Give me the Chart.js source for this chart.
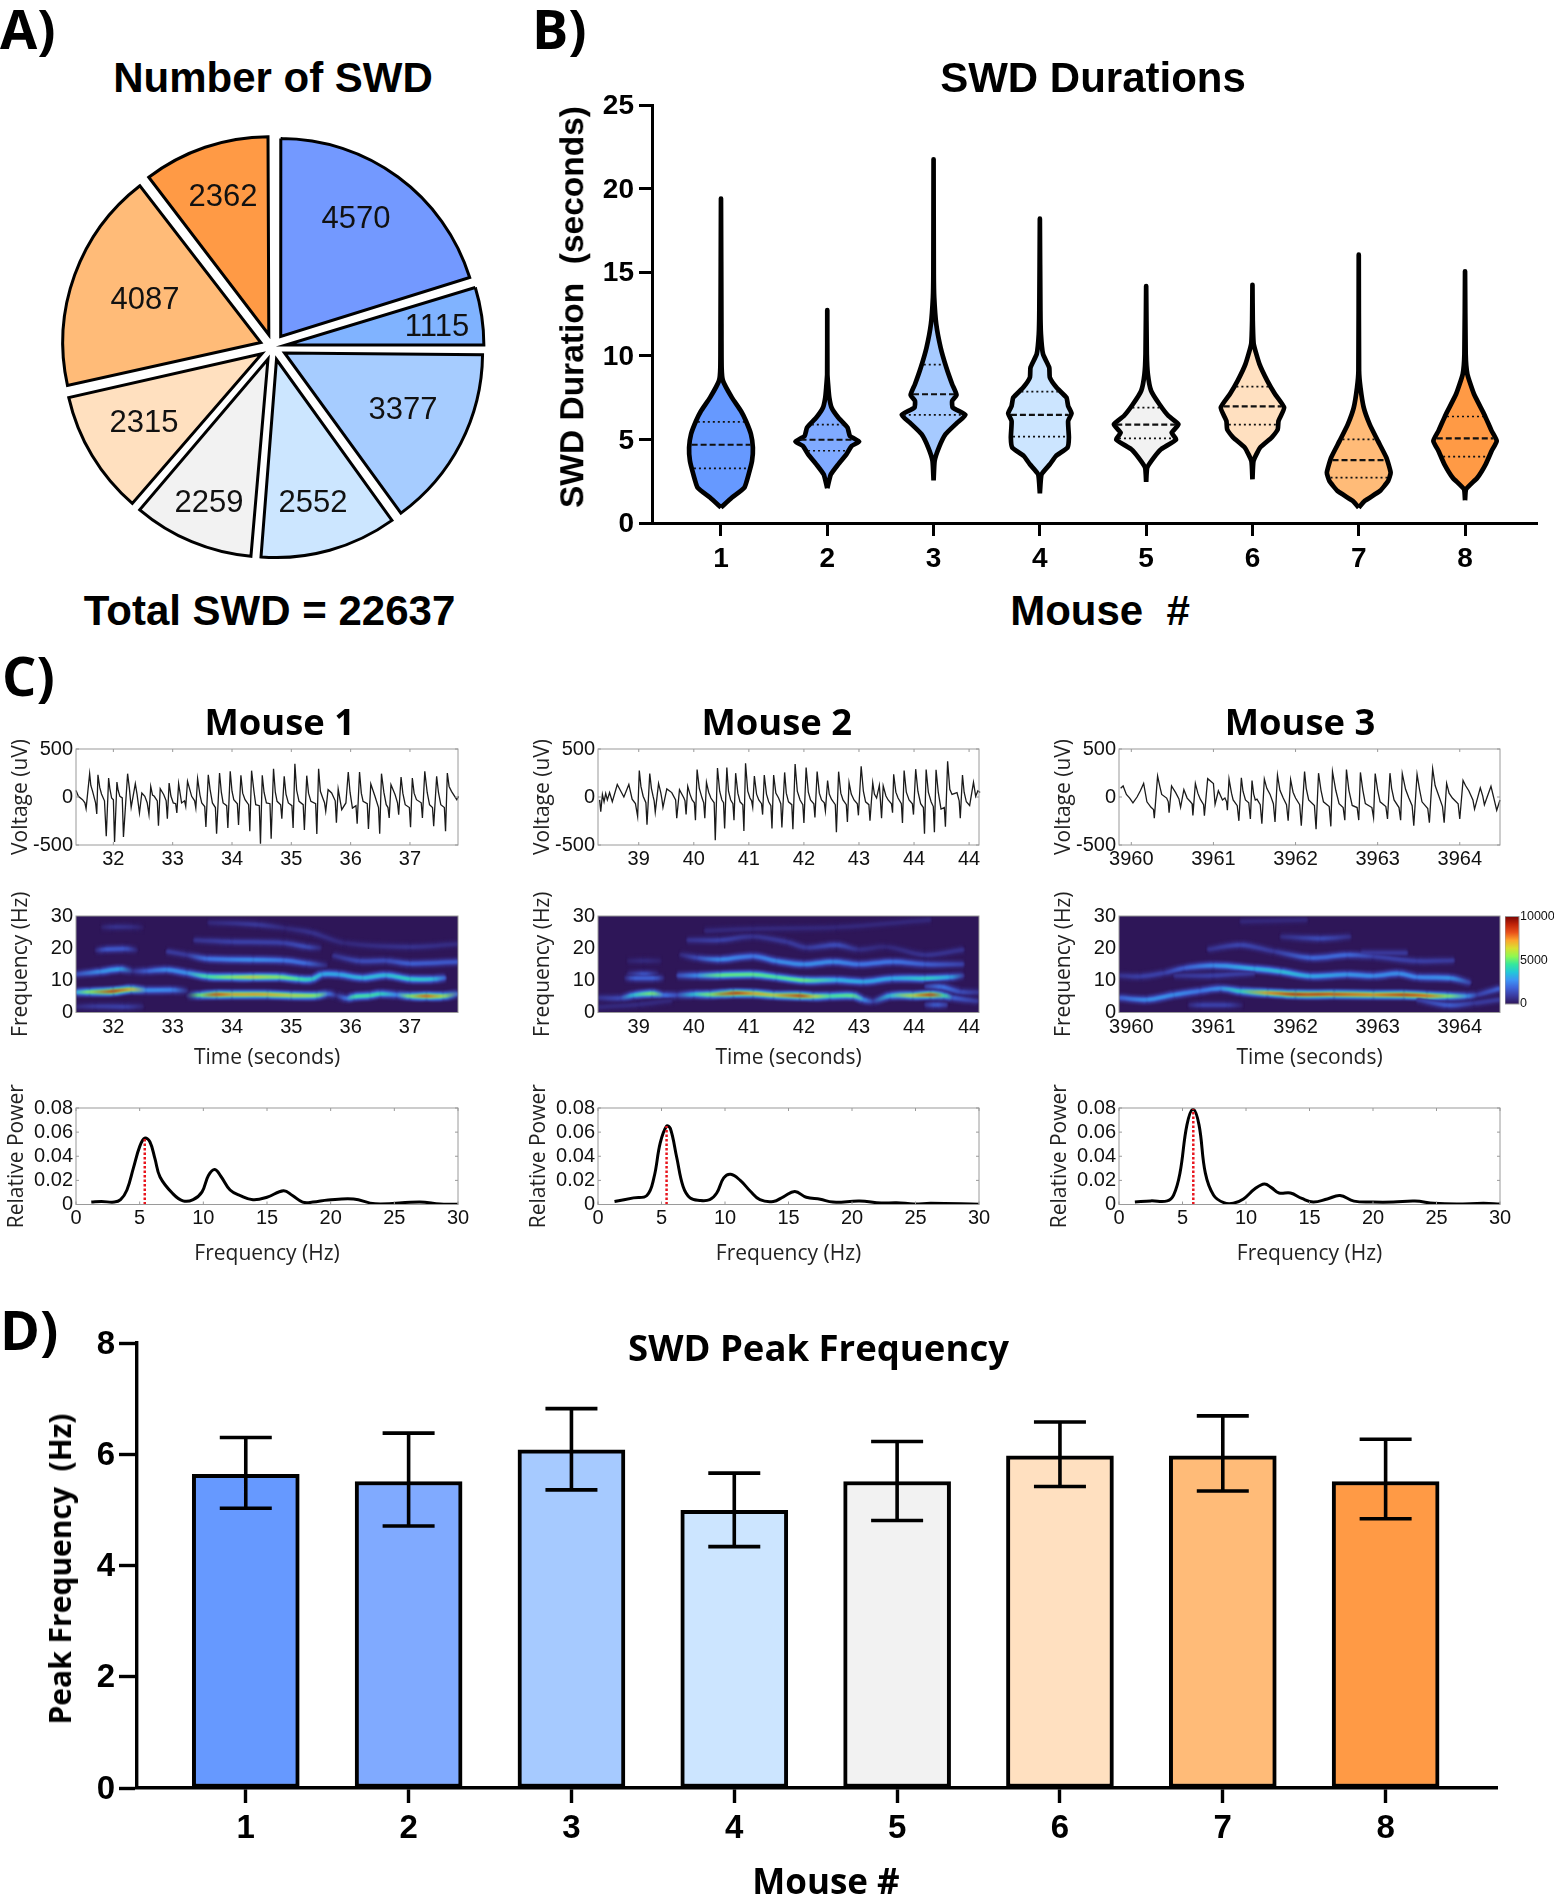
<!DOCTYPE html>
<html>
<head>
<meta charset="utf-8">
<title>SWD figure</title>
<script src="https://cdn.jsdelivr.net/npm/chart.js@4"></script>
<style>
  html, body { margin: 0; padding: 0; background: #fff; }
  #page { position: relative; width: 1554px; height: 1896px; overflow: hidden; }
  #page canvas { position: absolute; }
  .figText { position: absolute; line-height: 1; white-space: pre; color: #000; }
</style>
</head>
<body>
<div id="page"></div>
<script>
// ===================================================
// Data
// ===================================================

var mice = [1, 2, 3, 4, 5, 6, 7, 8];

// Panel A
var swdCounts = [4570, 1115, 3377, 2552, 2259, 2315, 4087, 2362];
var pieColors = ['#7399FF', '#80B3FF', '#A6CCFF', '#CCE6FF', '#F2F2F2', '#FFE0BF', '#FFBB78', '#FF9A45'];
// label offset from the pie centre, pixels
var pieLabelOffsets = [[83, -128], [164, -20], [130, 63], [40, 156], [-64, 156], [-129, 76], [-128, -47], [-50, -150]];

// Panel B: [duration, half width] from bottom tip to top tip
var violin1 = [[0.92,0],[1.52,.103],[2.12,.22],[2.91,.26],[3.71,.292],[4.51,.3],[5.31,.282],[6.1,.235],[6.7,.188],[7.5,.103],[8.5,.019],[9.3,.006],[11.9,.004],[19.4,0]];
var violin2 = [[2.08,0],[2.91,.034],[3.51,.103],[4.11,.18],[4.61,.23],[4.87,.3],[5.21,.213],[5.71,.19],[6.31,.103],[6.91,.04],[7.5,.019],[8.1,.01],[8.9,.001],[12.73,0]];
var violin3 = [[2.55,0],[3.71,.01],[4.51,.05],[5.31,.113],[6,.223],[6.47,.3],[6.9,.18],[7.3,.175],[7.66,.216],[8.3,.175],[9.3,.12],[10.5,.066],[11.9,.025],[13.5,.006],[14.9,.002],[21.75,0]];
var violin4 = [[1.78,0],[2.91,.016],[3.51,.094],[4,.15],[4.51,.26],[5.11,.273],[6.1,.266],[6.55,.298],[7,.266],[7.5,.25],[8.1,.157],[8.7,.094],[9.3,.088],[10.1,.03],[11.3,.01],[12.7,.005],[18.2,0]];
var violin5 = [[2.47,0],[3.31,.01],[3.91,.072],[4.41,.14],[5,.282],[5.4,.24],[5.9,.304],[6.4,.21],[7.1,.125],[7.9,.047],[8.9,.016],[10.1,.006],[14.17,0]];
var violin6 = [[2.61,0],[3.71,.01],[4.51,.072],[5.11,.18],[5.6,.238],[6.1,.245],[6.9,.298],[7.7,.213],[8.5,.14],[9.5,.066],[10.7,.012],[12.1,.003],[14.25,0]];
var violin7 = [[.92,0],[1.32,.056],[1.92,.2],[2.51,.276],[3.01,.3],[3.91,.26],[4.91,.18],[5.9,.103],[6.9,.047],[8.1,.016],[9.1,.003],[16.05,0]];
var violin8 = [[1.36,0],[2.02,.01],[2.71,.116],[3.51,.194],[4.31,.25],[4.91,.298],[5.51,.25],[6.51,.18],[7.7,.085],[8.9,.022],[10.1,.006],[15.05,0]];
var violins = [violin1, violin2, violin3, violin4, violin5, violin6, violin7, violin8];
var durationMedians = [4.68, 4.98, 7.7, 6.47, 5.88, 6.97, 3.76, 5.06];
var durationQ1 = [3.27, 4.32, 6.47, 5.17, 5.06, 5.88, 2.71, 3.97];
var durationQ3 = [6.05, 5.88, 9.47, 7.86, 6.9, 8.16, 5, 6.37];
var violinColors = ['#6699FF', '#80AAFF', '#A6CAFF', '#CCE5FF', '#F2F2F2', '#FFE0C0', '#FFBB78', '#FF9A45'];

// Panel C: voltage traces [seconds, uV]
var trace1 = [[31.37,69],[31.41,7],[31.48,-28],[31.52,-60],[31.54,-121],[31.6,243],[31.62,120],[31.65,59],[31.7,-60],[31.72,-177],[31.74,232],[31.77,100],[31.8,31],[31.85,-40],[31.88,-409],[31.92,198],[31.94,90],[31.97,-10],[32,-30],[32.02,-468],[32.06,156],[32.08,70],[32.11,7],[32.15,-10],[32.17,-416],[32.24,243],[32.27,90],[32.3,-108],[32.37,139],[32.4,24],[32.44,-167],[32.48,42],[32.53,7],[32.57,-60],[32.6,-184],[32.63,111],[32.66,20],[32.69,7],[32.74,-40],[32.76,-298],[32.79,87],[32.85,24],[32.89,-40],[32.91,-226],[32.94,146],[32.97,10],[33.01,-62],[33.05,-70],[33.07,-167],[33.1,139],[33.15,-62],[33.2,-40],[33.22,-97],[33.25,163],[33.32,7],[33.37,-40],[33.39,-115],[33.42,191],[33.46,20],[33.49,-62],[33.54,-100],[33.56,-312],[33.6,232],[33.63,80],[33.67,-62],[33.72,-110],[33.74,-382],[33.79,250],[33.82,50],[33.85,-62],[33.91,-90],[33.93,-323],[33.97,267],[34,60],[34.03,-28],[34.09,-70],[34.11,-291],[34.15,226],[34.18,40],[34.22,-28],[34.28,-80],[34.3,-357],[34.33,274],[34.37,60],[34.4,-80],[34.46,-90],[34.48,-486],[34.51,226],[34.54,50],[34.58,-62],[34.64,-70],[34.66,-434],[34.7,295],[34.73,50],[34.76,-45],[34.82,-80],[34.84,-226],[34.88,215],[34.91,30],[34.95,-62],[35.01,-90],[35.03,-323],[35.06,347],[35.09,70],[35.13,-45],[35.2,-80],[35.22,-344],[35.26,222],[35.29,40],[35.33,-45],[35.41,-70],[35.43,-385],[35.46,295],[35.49,60],[35.53,-10],[35.56,-60],[35.58,-149],[35.62,76],[35.68,42],[35.74,-40],[35.76,-267],[35.79,83],[35.85,-132],[35.92,-62],[35.96,260],[35.99,50],[36.03,-115],[36.09,-90],[36.11,-278],[36.15,260],[36.18,40],[36.21,-45],[36.28,-70],[36.3,-333],[36.34,135],[36.41,7],[36.47,-110],[36.49,-382],[36.52,243],[36.56,50],[36.6,-80],[36.63,-110],[36.65,-219],[36.68,128],[36.75,24],[36.79,-60],[36.81,-184],[36.85,208],[36.88,40],[36.92,-80],[36.99,-110],[37.01,-316],[37.04,198],[37.07,40],[37.11,-28],[37.19,-60],[37.21,-219],[37.25,267],[37.29,50],[37.33,-80],[37.38,-110],[37.4,-305],[37.45,215],[37.48,50],[37.52,-80],[37.58,-110],[37.6,-357],[37.63,250],[37.66,110],[37.7,59],[37.79,-28],[37.82,7]];
var trace2 = [[38.29,-30],[38.31,-153],[38.34,27],[38.37,-50],[38.4,38],[38.43,-30],[38.47,46],[38.52,-50],[38.61,130],[38.67,65],[38.73,0],[38.82,130],[38.88,-23],[38.94,-69],[38.98,-202],[39.01,275],[39.04,110],[39.08,8],[39.13,-60],[39.15,-290],[39.2,245],[39.23,90],[39.26,8],[39.28,-40],[39.3,-157],[39.36,141],[39.4,46],[39.42,-20],[39.44,-107],[39.51,84],[39.6,46],[39.67,-30],[39.69,-222],[39.74,76],[39.82,-11],[39.84,-40],[39.86,-183],[39.89,111],[39.93,30],[39.97,-31],[40.01,-60],[40.03,-241],[40.06,286],[40.1,90],[40.15,-11],[40.18,-60],[40.2,-222],[40.23,153],[40.27,50],[40.31,-11],[40.37,-60],[40.39,-451],[40.43,302],[40.47,60],[40.51,-31],[40.54,-60],[40.56,-329],[40.6,306],[40.63,60],[40.67,-31],[40.71,-70],[40.73,-241],[40.76,248],[40.8,40],[40.84,-50],[40.89,-80],[40.91,-355],[40.94,351],[40.98,60],[41.02,-11],[41.05,-40],[41.07,-107],[41.1,218],[41.14,30],[41.18,-31],[41.23,-70],[41.25,-183],[41.28,229],[41.32,30],[41.36,-50],[41.4,-90],[41.42,-329],[41.45,229],[41.49,40],[41.54,-11],[41.58,-70],[41.6,-317],[41.65,256],[41.68,40],[41.72,-50],[41.78,-80],[41.8,-336],[41.84,344],[41.88,60],[41.93,-31],[41.98,-80],[42,-271],[42.04,306],[42.08,50],[42.12,-31],[42.18,-70],[42.2,-214],[42.24,264],[42.28,40],[42.32,-31],[42.37,-60],[42.39,-145],[42.43,172],[42.46,30],[42.5,-23],[42.57,-80],[42.59,-367],[42.63,264],[42.67,40],[42.71,-31],[42.77,-80],[42.79,-260],[42.82,149],[42.86,30],[42.91,-31],[42.97,-70],[42.99,-191],[43.04,321],[43.08,60],[43.12,-50],[43.18,-80],[43.2,-248],[43.25,149],[43.28,30],[43.32,-11],[43.37,122],[43.39,-40],[43.41,-222],[43.44,115],[43.49,10],[43.53,-31],[43.59,-70],[43.61,-164],[43.63,237],[43.67,50],[43.71,-11],[43.77,-70],[43.79,-271],[43.82,275],[43.86,50],[43.91,-31],[43.97,-70],[43.99,-183],[44.03,290],[44.07,60],[44.12,-69],[44.17,-110],[44.19,-382],[44.22,286],[44.26,50],[44.31,-50],[44.35,-100],[44.37,-367],[44.4,283],[44.44,50],[44.49,-126],[44.55,-110],[44.57,-309],[44.61,371],[44.65,80],[44.69,27],[44.78,46],[44.82,-40],[44.84,-222],[44.88,229],[44.91,50],[44.95,-50],[45.01,-88],[45.08,153],[45.12,8],[45.16,65],[45.2,46],[45.26,-107]];
var trace3 = [[3959.87,92],[3959.9,115],[3959.94,27],[3959.98,-11],[3960.02,-61],[3960.07,0],[3960.11,65],[3960.15,141],[3960.19,-50],[3960.24,-107],[3960.27,-130],[3960.28,-222],[3960.32,218],[3960.35,100],[3960.37,27],[3960.43,-11],[3960.45,-50],[3960.46,-164],[3960.49,115],[3960.54,46],[3960.58,-20],[3960.6,-107],[3960.64,76],[3960.68,-11],[3960.72,-50],[3960.74,-70],[3960.75,-191],[3960.78,141],[3960.81,40],[3960.84,-23],[3960.88,-80],[3960.89,-195],[3960.93,191],[3961,141],[3961.02,-76],[3961.06,65],[3961.11,-31],[3961.14,-11],[3961.16,-50],[3961.17,-138],[3961.19,187],[3961.22,40],[3961.24,-31],[3961.29,-90],[3961.31,-248],[3961.34,199],[3961.36,60],[3961.39,-31],[3961.43,-60],[3961.45,-229],[3961.47,172],[3961.49,30],[3961.51,-31],[3961.53,-23],[3961.57,-80],[3961.59,-279],[3961.62,187],[3961.65,90],[3961.69,27],[3961.73,-70],[3961.75,-260],[3961.78,229],[3961.81,70],[3961.85,-11],[3961.89,-80],[3961.91,-248],[3961.94,180],[3961.97,50],[3962,-11],[3962.05,-80],[3962.07,-298],[3962.11,264],[3962.13,90],[3962.16,-31],[3962.23,-90],[3962.25,-336],[3962.28,248],[3962.31,70],[3962.34,-50],[3962.41,-100],[3962.43,-306],[3962.45,264],[3962.49,70],[3962.53,-69],[3962.58,-110],[3962.6,-241],[3962.62,286],[3962.65,70],[3962.69,-88],[3962.75,-110],[3962.77,-241],[3962.79,256],[3962.82,70],[3962.85,-69],[3962.93,-110],[3962.95,-214],[3962.97,244],[3963,70],[3963.03,-50],[3963.1,-100],[3963.12,-229],[3963.15,248],[3963.17,90],[3963.2,-31],[3963.26,-110],[3963.28,-241],[3963.3,244],[3963.34,80],[3963.38,-11],[3963.42,-90],[3963.44,-298],[3963.48,237],[3963.51,80],[3963.54,-50],[3963.61,-120],[3963.63,-267],[3963.67,294],[3963.7,120],[3963.73,46],[3963.79,-100],[3963.81,-267],[3963.84,141],[3963.87,40],[3963.91,-11],[3963.98,-70],[3964,-229],[3964.04,172],[3964.07,120],[3964.11,65],[3964.16,-30],[3964.18,-126],[3964.25,95],[3964.28,10],[3964.3,-80],[3964.38,111],[3964.42,-30],[3964.45,-138],[3964.49,-31]];

// Panel C: spectrogram ridges, each a list of [seconds, Hz, relative power]
var ridges1 = [
  [[31.37,6.3,.35],[31.6,6.4,.6],[32,6.6,1],[32.3,7.2,.75],[32.55,6.9,.3],[33,7,.28],[33.25,6.7,.06]],
  [[33.24,5.3,.05],[33.46,5.4,.55],[33.74,5.6,.97],[34,5.6,.8],[34.6,5.6,.78],[35,5.3,.7],[35.43,5.3,.6],[35.62,5.8,.25],[35.76,5.3,.08],[35.93,4.4,.25],[36.05,4.9,.5],[36.33,5.3,.5],[36.5,5.8,.45],[36.78,5.5,.28],[37,5.1,.6],[37.28,5.1,.9],[37.56,5.1,.65],[37.81,5.8,.2]],
  [[31.37,11.9,.15],[31.78,12.7,.3],[32.11,13.5,.35],[32.33,12.9,.08],[32.56,12.9,.2],[32.9,13.3,.3],[33.24,12.3,.3],[33.58,11.2,.5],[34,11,.6],[34.36,11,.7],[34.8,11,.6],[35.13,10.4,.5],[35.35,10.4,.45],[35.52,11.9,.35],[35.8,11.8,.35],[36.2,10.8,.4],[36.6,11.6,.4],[37,10.4,.45],[37.4,10.4,.4],[37.6,10.8,.2]],
  [[32.9,19,.1],[33.24,17.9,.1],[33.58,16.7,.25],[34.36,16.4,.3],[34.87,16.2,.25],[35.26,15.3,.22],[35.6,14.6,.05]],
  [[35.7,17.7,.08],[36.15,16,.15],[36.6,16.1,.15],[37,15.2,.2],[37.81,15.8,.18]],
  [[33.36,22.5,.08],[34,22,.12],[34.87,21.6,.12],[35.26,20.4,.15],[35.5,20.1,.05]],
  [[33.6,28,.05],[34.45,27.3,.1],[34.9,26.2,.05],[35.35,24.8,.08],[35.9,21.6,.05],[37,20.4,.08],[37.81,21.3,.06]],
  [[31.7,19.3,.05],[31.85,19.6,.18],[32.2,19.8,.18],[32.4,19.4,.04]],
  [[31.8,26.5,.03],[32,26.6,.08],[32.35,26.6,.06],[32.5,26.4,.02]],
  [[31.37,1.8,.05],[31.7,1.9,.1],[32.2,1.8,.12],[32.5,1.9,.04]]
];
var ridges2 = [
  [[38.26,4.6,.08],[38.67,4.5,.15],[38.9,5.4,.4],[39.24,5.9,.6],[39.45,5.4,.25],[39.7,5.4,.15],[40,5.65,.4],[40.3,5.6,.6],[40.72,6,1],[41.08,5.9,.8],[41.45,5.4,.7],[41.93,5.2,1],[42.17,5,.7],[42.47,5.1,.5],[42.9,5.2,.55],[43.08,4,.3],[43.26,3.5,.12],[43.56,5.2,.4],[43.98,5.3,.7],[44.3,5.5,1],[44.55,5.2,.5],[44.7,4.6,.2],[45.16,3.5,.1]],
  [[44.2,8.1,.1],[44.5,8,.25],[44.85,6.4,.15],[45.18,6.3,.08]],
  [[44.2,2.4,.08],[44.4,2.4,.2],[44.6,2.4,.1]],
  [[39.7,11.5,.15],[40.06,11.5,.3],[40.48,11.6,.55],[41.08,11.8,.55],[41.5,11,.5],[42,10,.55],[42.6,10.1,.38],[43.08,9.6,.35],[43.6,10.6,.35],[44.2,10.6,.45],[44.65,11,.35],[44.9,11.5,.1]],
  [[38.75,10.7,.05],[38.9,10.7,.2],[39.3,10.7,.2],[39.45,10.7,.05]],
  [[38.8,12,.05],[39.1,12,.18],[39.35,12,.04]],
  [[38.8,16,.03],[39.1,16.1,.06],[39.4,16,.03]],
  [[39.75,18,.05],[40.06,17,.15],[40.48,16.5,.3],[41.08,17.5,.25],[41.5,16,.3],[42,15,.3],[42.53,15.8,.3],[43,15,.25],[43.62,15.8,.25],[44.2,15,.2],[44.9,15,.12]],
  [[39.88,22.5,.08],[40.48,22.5,.12],[41.08,23.6,.08],[41.7,21.9,.1],[42.05,20.2,.1],[42.6,21,.16],[43,19.6,.07],[43.5,20.4,.05],[44.2,17.9,.08],[44.9,19.6,.08]],
  [[40.2,25.4,.05],[41.08,26,.05],[42.6,26.5,.05],[44.3,28.8,.05]],
  [[38.26,1.7,.05],[39,2.5,.06],[39.6,3.8,.05]]
];
var ridges3 = [
  [[3959.85,4.6,.2],[3960.19,4,.3],[3960.52,5.5,.3],[3960.84,6.7,.25],[3961.09,7.5,.3],[3961.33,6.6,.45],[3961.66,6.1,.8],[3962,5.65,1],[3962.47,5.65,.95],[3962.95,5.5,.85],[3963.32,5.5,1],[3963.6,5.2,.9],[3963.85,5.1,.6],[3964.09,5.1,.3],[3964.21,5.5,.12],[3964.49,7.5,.2]],
  [[3963.48,4,.1],[3963.85,2.3,.2],[3964.17,2.9,.1],[3964.49,4,.1]],
  [[3960.7,2.3,.05],[3960.84,2.3,.12],[3961.17,2.3,.12],[3961.35,2.2,.03]],
  [[3959.85,11.5,.08],[3960.11,11.2,.12],[3960.4,12.3,.12],[3960.64,13.8,.2],[3961,14.6,.3],[3961.5,13.6,.38],[3961.82,12.7,.4],[3962.18,11.3,.35],[3962.63,11.8,.32],[3962.95,11.4,.3],[3963.26,12.1,.3],[3963.48,11,.28],[3963.89,10.7,.32],[3964.13,9.2,.12]],
  [[3960.52,11.5,.08],[3961,11.5,.12],[3961.5,12.3,.1]],
  [[3960.93,19.6,.08],[3961.33,21,.14],[3961.74,19,.1],[3962.18,17,.22],[3962.63,17.9,.22],[3962.95,17.4,.12],[3963.48,16,.12],[3963.93,16.2,.1]],
  [[3962.8,18.5,.1],[3963.36,18.5,.1]],
  [[3961.82,23.6,.06],[3962.3,23,.15],[3962.67,23.6,.07]],
  [[3961.33,28.3,.05],[3962.14,28.8,.05]]
];

// Panel C: power spectra [Hz, relative power]
var spectrum1 = [[1.2,.002],[2,.0025],[3,.002],[3.5,.004],[4,.012],[4.5,.03],[5,.048],[5.4,.055],[5.8,.052],[6.2,.038],[6.6,.0228],[7.6,.009],[8.4,.003],[9.2,.004],[9.9,.0105],[10.4,.024],[10.9,.029],[11.4,.023],[12.1,.012],[12.9,.0074],[13.9,.004],[15,.006],[16.3,.0114],[17,.0074],[17.8,.002],[18.6,.002],[19.8,.0037],[21.8,.0046],[23.5,.0006],[27,.002],[28.6,.0004],[30,.0003]];
var spectrum2 = [[1.3,.0025],[2.8,.0055],[3.85,.0075],[4.4,.022],[4.9,.051],[5.4,.065],[5.7,.063],[6.2,.039],[6.7,.015],[7.25,.0055],[8,.0034],[8.8,.004],[9.35,.0095],[9.9,.022],[10.45,.025],[11.2,.02],[12,.011],[12.75,.004],[13.8,.0025],[14.6,.0064],[15.5,.0107],[16.4,.006],[17.5,.0043],[18.5,.002],[20.6,.0028],[22.3,.0012],[23.5,.0015],[24.9,.0004],[26.2,.001],[30,.0003]];
var spectrum3 = [[1.25,.002],[2.5,.003],[3.8,.003],[4.3,.0077],[4.8,.026],[5.35,.066],[5.83,.079],[6.3,.066],[6.8,.026],[7.45,.0077],[8.25,.0015],[9,.001],[9.8,.0046],[10.7,.013],[11.45,.017],[12,.014],[12.6,.0095],[13.5,.0095],[14.4,.005],[15.3,.002],[16.4,.0046],[17.4,.0074],[18.5,.0028],[20,.002],[21.6,.002],[23.3,.0028],[24.8,.001],[26.6,.0004],[28.7,.001],[30,.0004]];
var peakFrequencies = [5.4, 5.4, 5.85];
var peakPowers = [0.055, 0.065, 0.079];

// Panel C: axis ticks
var timeTicks1 = [32, 33, 34, 35, 36, 37];
var timeTicks2 = [39, 40, 41, 42, 43, 44, 45];
var timeTicks3 = [3960, 3961, 3962, 3963, 3964];
var timeLabels1 = ['32', '33', '34', '35', '36', '37'];
var timeLabels2 = ['39', '40', '41', '42', '43', '44', '44'];
var timeLabels3 = ['3960', '3961', '3962', '3963', '3964'];
var timeRange1 = [31.37, 37.81];
var timeRange2 = [38.26, 45.18];
var timeRange3 = [3959.85, 3964.49];
var voltageTicks = [-500, 0, 500];
var frequencyTicks = [0, 10, 20, 30];
var spectrumFreqTicks = [0, 5, 10, 15, 20, 25, 30];
var spectrumPowerTicks = [0, 0.02, 0.04, 0.06, 0.08];
var colorbarTicks = [0, 5000, 10000];

// Panel D
var peakMeans = [5.64, 5.51, 6.08, 4.99, 5.51, 5.97, 5.97, 5.51];
var peakUpper = [6.3, 6.38, 6.82, 5.66, 6.23, 6.58, 6.69, 6.27];
var peakLower = [5.03, 4.71, 5.36, 4.34, 4.81, 5.42, 5.34, 4.84];

// ===================================================
// Shared helpers
// ===================================================

var SANS = '"Liberation Sans", Arial, sans-serif';
var OPEN = '"Open Sans", sans-serif';
var page = document.getElementById('page');

Chart.defaults.animation = false;
Chart.defaults.responsive = false;
Chart.defaults.events = [];
Chart.defaults.plugins.legend.display = false;
Chart.defaults.plugins.tooltip.enabled = false;
Chart.defaults.elements.point.radius = 0;

function addText(text, x, y, font, align, rotate) {
  var el = document.createElement('div');
  el.className = 'figText';
  el.textContent = text;
  el.style.font = font;
  el.style.lineHeight = '1';
  el.style.left = x + 'px';
  el.style.top = y + 'px';
  el.style.transform = align === 'left' ? 'translate(0,-50%)' : 'translate(-50%,-50%)' + (rotate ? ' rotate(' + rotate + 'deg)' : '');
  page.appendChild(el);
}

// Creates a canvas so the chart area lands exactly on plot {l,t,r,b}
function placeChart(plot, margins, config) {
  var canvas = document.createElement('canvas');
  var w = plot.r - plot.l + margins.left + margins.right;
  var h = plot.b - plot.t + margins.top + margins.bottom;
  canvas.width = Math.round(w);
  canvas.height = Math.round(h);
  canvas.style.left = (plot.l - margins.left) + 'px';
  canvas.style.top = (plot.t - margins.top) + 'px';
  canvas.style.width = Math.round(w) + 'px';
  canvas.style.height = Math.round(h) + 'px';
  page.appendChild(canvas);

  var scales = config.options.scales;
  var rightAxis = scales && scales.y && scales.y.position === 'right';
  var hiddenX = scales && scales.x && scales.x.display === false;
  config.options.layout = {
    autoPadding: false,
    padding: {
      top: margins.top,
      right: rightAxis ? 0 : margins.right,
      left: rightAxis ? margins.left : 0,
      bottom: hiddenX ? margins.bottom : 0
    }
  };
  if (scales && scales.x) scales.x.afterFit = function(s) { s.height = margins.bottom; };
  if (scales && scales.y) scales.y.afterFit = function(s) { s.width = rightAxis ? margins.right : margins.left; };
  return new Chart(canvas.getContext('2d'), config);
}

function fixedTicks(values) {
  return function(axis) {
    axis.ticks = values.map(function(v) { return { value: v }; });
  };
}

function labelsFrom(list) {
  return function(value, index) { return list[index]; };
}

// Heavy axis used by panels B and D
function heavyAxis(range, values, tickFont, tickLength, tickPad, lineWidth, labelShift) {
  return {
    type: 'linear',
    offset: false,
    min: range[0],
    max: range[1],
    afterBuildTicks: fixedTicks(values),
    ticks: {
      callback: function(v) { return String(v); },
      autoSkip: false,
      maxRotation: 0,
      color: '#000',
      font: tickFont,
      padding: tickPad,
      labelOffset: labelShift || 0
    },
    grid: {
      offset: false,
      drawOnChartArea: false,
      drawTicks: true,
      tickLength: tickLength,
      tickWidth: lineWidth,
      tickColor: '#000'
    },
    border: { color: '#000', width: lineWidth }
  };
}

// Thin box axis used by the panel C plots
function thinAxis(range, values, labels, pad, titleText) {
  var axis = {
    type: 'linear',
    min: range[0],
    max: range[1],
    afterBuildTicks: fixedTicks(values),
    ticks: {
      callback: labelsFrom(labels),
      autoSkip: false,
      maxRotation: 0,
      color: '#111',
      font: { family: SANS, size: 20 },
      padding: pad
    },
    grid: { display: false, drawTicks: false },
    border: { display: false }
  };
  if (titleText) {
    axis.title = { display: true, text: titleText, color: '#222', font: { family: OPEN, size: 21 }, padding: 0 };
  }
  return axis;
}

// Grey frame with small inward ticks, MATLAB look
var framePlugin = {
  id: 'frame',
  afterDraw: function(chart, args, opts) {
    var a = chart.chartArea, ctx = chart.ctx, len = opts.tick || 0;
    ctx.save();
    ctx.strokeStyle = '#9a9a9a';
    ctx.lineWidth = 1;
    ctx.strokeRect(a.left, a.top, a.right - a.left, a.bottom - a.top);
    if (len) {
      ctx.beginPath();
      chart.scales.x.ticks.forEach(function(t) {
        var px = chart.scales.x.getPixelForValue(t.value);
        ctx.moveTo(px, a.bottom); ctx.lineTo(px, a.bottom - len);
        ctx.moveTo(px, a.top); ctx.lineTo(px, a.top + len);
      });
      chart.scales.y.ticks.forEach(function(t) {
        var py = chart.scales.y.getPixelForValue(t.value);
        ctx.moveTo(a.left, py); ctx.lineTo(a.left + len, py);
        ctx.moveTo(a.right, py); ctx.lineTo(a.right - len, py);
      });
      ctx.stroke();
    }
    ctx.restore();
  }
};

// ===================================================
// Panel A - pie
// ===================================================

var PIE_RADIUS = 198;
var PIE_SHIFT = 13;

var piePlugin = {
  id: 'pieShape',
  // Chart.js moves an offset arc by offset / 4 and grows thin arcs; keep one radius
  beforeDatasetsDraw: function(chart) {
    chart.getDatasetMeta(0).data.forEach(function(arc) {
      var fix = 1 - Math.sin(Math.min(Math.PI, arc.circumference));
      arc.outerRadius = PIE_RADIUS - PIE_SHIFT * fix;
    });
  },
  afterDatasetsDraw: function(chart) {
    var ctx = chart.ctx;
    ctx.save();
    ctx.fillStyle = '#111';
    ctx.font = '31px ' + SANS;
    ctx.textAlign = 'center';
    ctx.textBaseline = 'middle';
    chart.getDatasetMeta(0).data.forEach(function(arc, i) {
      ctx.fillText(String(swdCounts[i]), arc.x + pieLabelOffsets[i][0], arc.y + pieLabelOffsets[i][1]);
    });
    ctx.restore();
  }
};

placeChart({ l: 43, t: 117, r: 503, b: 577 }, { left: 0, right: 0, top: 0, bottom: 0 }, {
  type: 'pie',
  data: {
    labels: mice.map(String),
    datasets: [{
      data: swdCounts,
      backgroundColor: pieColors,
      borderColor: '#000',
      borderWidth: 3,
      borderJoinStyle: 'miter',
      radius: PIE_RADIUS,
      offset: PIE_SHIFT * 4
    }]
  },
  options: {},
  plugins: [piePlugin]
});

// ===================================================
// Panel B - violins
// ===================================================

function halfWidthAt(outline, y) {
  for (var i = 1; i < outline.length; i++) {
    if (y <= outline[i][0]) {
      var a = outline[i - 1], b = outline[i];
      return a[1] + (b[1] - a[1]) * (y - a[0]) / (b[0] - a[0]);
    }
  }
  return 0;
}

var violinDatasets = [];

function addQuartileLine(mouseIndex, y, dash, width) {
  var hw = halfWidthAt(violins[mouseIndex], y) - 0.02;
  violinDatasets.push({
    data: [{ x: mice[mouseIndex] - hw, y: y }, { x: mice[mouseIndex] + hw, y: y }],
    showLine: true,
    borderColor: '#111',
    borderWidth: width,
    borderDash: dash
  });
}

violins.forEach(function(outline, i) {
  addQuartileLine(i, durationMedians[i], [6, 3], 2.2);
  addQuartileLine(i, durationQ1[i], [2, 3], 1.7);
  addQuartileLine(i, durationQ3[i], [2, 3], 1.7);
});

violins.forEach(function(outline, i) {
  var right = outline.map(function(p) { return { x: mice[i] + p[1], y: p[0] }; });
  var left = outline.slice().reverse().map(function(p) { return { x: mice[i] - p[1], y: p[0] }; });
  violinDatasets.push({
    data: right.concat(left),
    showLine: true,
    tension: 0.15,
    fill: 'shape',
    backgroundColor: violinColors[i],
    borderColor: '#000',
    borderWidth: 4.7,
    borderJoinStyle: 'round'
  });
});

var durationY = [0, 5, 10, 15, 20, 25];

placeChart({ l: 652, t: 104.8, r: 1537, b: 522.5 }, { left: 72, right: 17, top: 40, bottom: 60 }, {
  type: 'scatter',
  data: { datasets: violinDatasets },
  options: {
    scales: {
      x: heavyAxis([0.351, 8.677], mice, { family: SANS, size: 28, weight: 'bold' }, 13, 6, 3),
      y: heavyAxis([0, 25], durationY, { family: SANS, size: 28, weight: 'bold' }, 13, 5, 3, 1.5)
    }
  }
});

// ===================================================
// Panel C - traces, spectrograms, spectra
// ===================================================

var heatStops = ['#2e1658', '#3a3a9e', '#3f62d8', '#3d94f5', '#22c8d8', '#35e89c', '#90f850', '#d8e030', '#fca52c', '#e8501a', '#c02408', '#7a0403'];

function heatColor(pos) {
  var scaled = Math.max(0, Math.min(1, pos)) * (heatStops.length - 1);
  var i = Math.min(Math.floor(scaled), heatStops.length - 2);
  var f = scaled - i;
  var a = parseInt(heatStops[i].slice(1), 16), b = parseInt(heatStops[i + 1].slice(1), 16);
  var mix = function(s) {
    return Math.round(((a >> s) & 255) + (((b >> s) & 255) - ((a >> s) & 255)) * f);
  };
  return 'rgb(' + mix(16) + ',' + mix(8) + ',' + mix(0) + ')';
}

var ridgeLayers = [
  { width: 1.6, gain: 1 },
  { width: 3.4, gain: 0.72 },
  { width: 6, gain: 0.42 },
  { width: 10, gain: 0.2 }
];

function ridgeDatasets(ridges) {
  var sets = [];
  ridgeLayers.forEach(function(layer, layerIndex) {
    ridges.forEach(function(ridge, ridgeIndex) {
      sets.push({
        data: ridge.map(function(p) { return { x: p[0], y: p[1] }; }),
        showLine: true,
        tension: 0.35,
        borderWidth: layer.width,
        borderColor: heatStops[0],
        segment: {
          borderColor: function(ctx) {
            var g = ctx.chart.ctx.createLinearGradient(ctx.p0.x, 0, ctx.p1.x, 0);
            g.addColorStop(0, heatColor(ridge[ctx.p0DataIndex][2] * layer.gain));
            g.addColorStop(1, heatColor(ridge[ctx.p1DataIndex][2] * layer.gain));
            // segments are split by comparing JSON of their style
            g.key = layerIndex + '-' + ridgeIndex + '-' + ctx.p0DataIndex;
            return g;
          }
        }
      });
    });
  });
  return sets;
}

var heatPlugin = {
  id: 'heatBackground',
  beforeDatasetsDraw: function(chart) {
    var a = chart.chartArea, ctx = chart.ctx;
    ctx.fillStyle = heatStops[0];
    ctx.fillRect(a.left, a.top, a.right - a.left, a.bottom - a.top);
    ctx.filter = 'blur(1.3px)';
  },
  afterDatasetsDraw: function(chart) {
    chart.ctx.filter = 'none';
  }
};

function addMousePanels(plotL, plotR, trace, ridges, spectrum, peakIndex, timeRange, timeTicks, timeLabels) {
  // voltage trace
  placeChart({ l: plotL, t: 748.5, r: plotR, b: 844.3 }, { left: 68, right: 30, top: 40, bottom: 32 }, {
    type: 'scatter',
    data: {
      datasets: [{
        data: trace.map(function(p) { return { x: p[0], y: p[1] }; }),
        showLine: true,
        clip: false,
        borderColor: '#1a1a1a',
        borderWidth: 1.3
      }]
    },
    options: {
      plugins: { frame: { tick: 3 } },
      scales: {
        x: thinAxis(timeRange, timeTicks, timeLabels, 2),
        y: thinAxis([-500, 500], voltageTicks, voltageTicks.map(String), 3, 'Voltage (uV)')
      }
    },
    plugins: [framePlugin]
  });

  // spectrogram
  placeChart({ l: plotL, t: 916.4, r: plotR, b: 1012.6 }, { left: 68, right: 30, top: 40, bottom: 58.5 }, {
    type: 'scatter',
    data: { datasets: ridgeDatasets(ridges) },
    options: {
      plugins: { frame: {} },
      scales: {
        x: thinAxis(timeRange, timeTicks, timeLabels, 3, 'Time (seconds)'),
        y: thinAxis([0, 30], frequencyTicks, frequencyTicks.map(String), 3, 'Frequency (Hz)')
      }
    },
    plugins: [heatPlugin, framePlugin]
  });

  // power spectrum
  placeChart({ l: plotL, t: 1108.4, r: plotR, b: 1204.6 }, { left: 72, right: 30, top: 40, bottom: 62.5 }, {
    type: 'scatter',
    data: {
      datasets: [
        {
          data: [{ x: peakFrequencies[peakIndex], y: 0 }, { x: peakFrequencies[peakIndex], y: peakPowers[peakIndex] }],
          showLine: true,
          borderColor: '#e8141c',
          borderWidth: 2.5,
          borderDash: [2.5, 2]
        },
        {
          data: spectrum.map(function(p) { return { x: p[0], y: p[1] }; }),
          showLine: true,
          tension: 0.4,
          borderColor: '#000',
          borderWidth: 3
        }
      ]
    },
    options: {
      plugins: { frame: { tick: 3 } },
      scales: {
        x: thinAxis([0, 30], spectrumFreqTicks, spectrumFreqTicks.map(String), 2, 'Frequency (Hz)'),
        y: thinAxis([0, 0.08], spectrumPowerTicks, spectrumPowerTicks.map(String), 3, 'Relative Power')
      }
    },
    plugins: [framePlugin]
  });
}

addMousePanels(76, 458, trace1, ridges1, spectrum1, 0, timeRange1, timeTicks1, timeLabels1);
addMousePanels(597.7, 979, trace2, ridges2, spectrum2, 1, timeRange2, timeTicks2, timeLabels2);
addMousePanels(1118.7, 1499.7, trace3, ridges3, spectrum3, 2, timeRange3, timeTicks3, timeLabels3);

// colour bar
placeChart({ l: 1505, t: 916.4, r: 1518.7, b: 1012.6 }, { left: 0, right: 35, top: 8, bottom: 8 }, {
  type: 'bar',
  data: {
    labels: [''],
    datasets: [{
      data: [[colorbarTicks[0], colorbarTicks[2]]],
      barPercentage: 1,
      categoryPercentage: 1,
      backgroundColor: function(ctx) {
        var a = ctx.chart.chartArea;
        if (!a) return heatStops[0];
        var g = ctx.chart.ctx.createLinearGradient(0, a.bottom, 0, a.top);
        heatStops.forEach(function(c, i) { g.addColorStop(i / (heatStops.length - 1), c); });
        return g;
      }
    }]
  },
  options: {
    plugins: { frame: {} },
    scales: {
      x: { display: false },
      y: {
        position: 'right',
        min: colorbarTicks[0],
        max: colorbarTicks[2],
        afterBuildTicks: fixedTicks(colorbarTicks),
        ticks: { color: '#111', font: { family: SANS, size: 12.5 }, padding: 1, callback: function(v) { return String(v); } },
        grid: { display: false, drawTicks: false },
        border: { display: false }
      }
    }
  },
  plugins: [framePlugin]
});

// ===================================================
// Panel D - peak frequency bars
// ===================================================

var errorBarPlugin = {
  id: 'errorBars',
  afterDatasetsDraw: function(chart) {
    var ctx = chart.ctx, x = chart.scales.x, y = chart.scales.y;
    ctx.save();
    ctx.strokeStyle = '#000';
    ctx.lineWidth = 3.6;
    ctx.beginPath();
    mice.forEach(function(m, i) {
      var px = x.getPixelForValue(m);
      var top = y.getPixelForValue(peakUpper[i]);
      var low = y.getPixelForValue(peakLower[i]);
      ctx.moveTo(px, top); ctx.lineTo(px, low);
      ctx.moveTo(px - 26, top); ctx.lineTo(px + 26, top);
      ctx.moveTo(px - 26, low); ctx.lineTo(px + 26, low);
    });
    ctx.stroke();
    ctx.restore();
  }
};

var peakY = [0, 2, 4, 6, 8];

placeChart({ l: 136.6, t: 1342.5, r: 1497, b: 1787 }, { left: 72, right: 40, top: 40, bottom: 70 }, {
  type: 'bar',
  data: {
    datasets: [{
      data: mice.map(function(m, i) { return { x: m, y: peakMeans[i] }; }),
      backgroundColor: violinColors,
      borderColor: '#000',
      borderWidth: 4,
      borderSkipped: false,
      barThickness: 107
    }]
  },
  options: {
    scales: {
      x: heavyAxis([0.332, 8.684], mice, { family: SANS, size: 33, weight: 'bold' }, 15, 6, 3.4),
      y: heavyAxis([0, 8], peakY, { family: SANS, size: 33, weight: 'bold' }, 18, 4, 3.4, 1.5)
    }
  },
  plugins: [errorBarPlugin]
});

// ===================================================
// Figure-level text
// ===================================================

var panelFont = 'bold 54px ' + OPEN;
addText('A)', 0, 28, panelFont, 'left');
addText('B)', 532, 28, panelFont, 'left');
addText('C)', 2, 675, panelFont, 'left');
addText('D)', 0, 1329, panelFont, 'left');

var headFont = 'bold 42px ' + SANS;
addText('Number of SWD', 273, 78, headFont);
addText('SWD Durations', 1093, 78, headFont);
addText('Total SWD = 22637', 269.5, 611, headFont);

addText('SWD Duration  (seconds)', 572, 307, 'bold 33.5px ' + SANS, 'center', -90);
addText('Mouse  #', 1100, 611, 'bold 42px ' + SANS);

var mouseFont = 'bold 36.4px ' + OPEN;
addText('Mouse 1', 279.7, 721, mouseFont);
addText('Mouse 2', 776.7, 721, mouseFont);
addText('Mouse 3', 1300, 721, mouseFont);

addText('SWD Peak Frequency', 818.5, 1347, 'bold 36.5px ' + OPEN);
addText('Peak Frequency  (Hz)', 60, 1569, 'bold 30px ' + OPEN, 'center', -90);
addText('Mouse #', 826, 1880, 'bold 35px ' + OPEN);
</script>
</body>
</html>
